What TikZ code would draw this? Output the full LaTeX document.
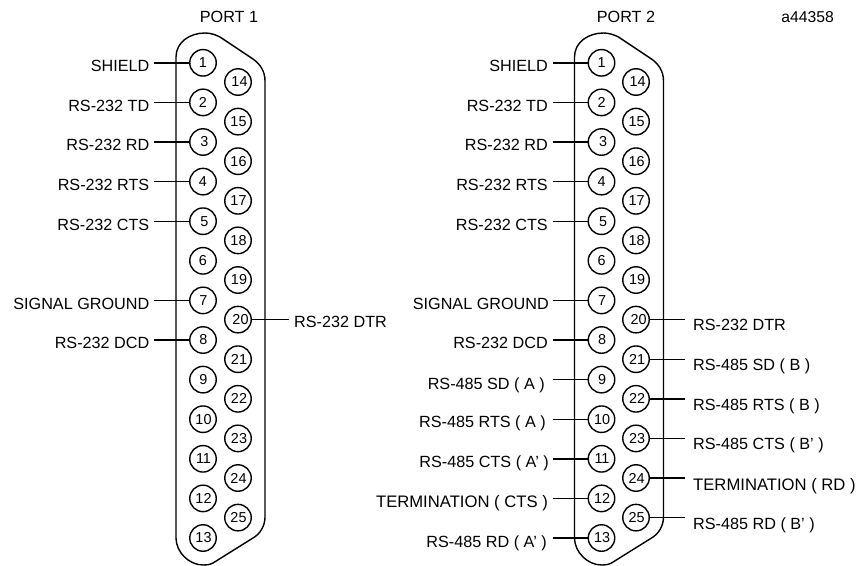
\documentclass[tikz,border=0pt]{standalone}
\usepackage{fontspec}
\setmainfont{Liberation Sans}
\tikzset{
 x=1pt,y=-1pt,
 pin/.style={draw,circle,line width=1.4pt,minimum size=26.5pt,inner sep=0pt,font=\fontsize{14.4}{15}\selectfont},
 lab/.style={inner sep=0pt,font=\fontsize{16.2}{18}\selectfont},
 labwide/.style={lab,font=\fontsize{16.65}{18}\selectfont},
 wire/.style={line width=1.4pt},
 shell/.style={line width=1.4pt},
}
\newcommand{\pinnum}[3]{\raisebox{#1pt}{\hspace*{#2pt}#3}}
\begin{document}
\begin{tikzpicture}
\useasboundingbox (0,0) rectangle (861,565);
% shells
\foreach \dx/\nm in {0/shellA,398.5/shellB}{
\begin{scope}[xshift=\dx pt]
\draw[shell] (176,292) -- (176,57) .. controls (176,42) and (190,33) .. (205,33)
 .. controls (211,33) and (216,35) .. (220,37) -- (253,59)
 .. controls (260,64) and (265,71) .. (265,81) -- (265,517)
 .. controls (265,526) and (260,534) .. (253,538) -- (213,563)
 .. controls (209,565) and (206,565) .. (203,565)
 .. controls (189,565) and (176,552) .. (176,538) -- (176,292);
\end{scope}}
% odd-column pins
\foreach \n/\yy/\r/\s in {1/62.8/-1/0,2/102.4/-1/0,3/142/-1/3,4/181.6/-1/0,5/221.2/-1.5/3,6/260.8/-1/0,7/300.4/-1/1,8/340/-1/1,9/379.6/-1/1,10/419.2/-2.5/1,11/458.8/-1.8/1,12/498.4/-2/1,13/538/-1.5/1}
 {\node[pin] (a\n) at (203,\yy) {\pinnum{\r}{\s}{\n}};
  \node[pin] (b\n) at (601.5,\yy) {\pinnum{\r}{\s}{\n}};}
% even-column pins
\foreach \n/\yy/\r/\s in {14/82/-2/3,15/121.6/-2/1,16/161.2/-2/1,17/200.8/-2/1,18/240.4/-2/1,19/280/-2/2,20/319.6/-2/5,21/359.2/-1/2,22/398.8/-3.5/2,23/438.4/-3/2,24/478/-3/1,25/517.6/-3/1}
 {\node[pin] (a\n) at (238,\yy) {\pinnum{\r}{\s}{\n}};
  \node[pin] (b\n) at (636,\yy) {\pinnum{\r}{\s}{\n}};}
% titles
\node[lab,anchor=base] (t1) at (229,22) {PORT 1};
\node[lab,anchor=base] (t2) at (626,22) {PORT 2};
\node[lab,anchor=base east,font=\fontsize{15.7}{18}\selectfont] (ref) at (834,22) {a44358};
% port 1 left labels
\foreach \n/\txt/\bl in {1/SHIELD/71,2/RS-232 TD/111,3/RS-232 RD/150,4/RS-232 RTS/190.5,5/RS-232 CTS/230,7/SIGNAL GROUND/309.3,8/RS-232 DCD/348.3}
 {\node[lab,anchor=base east] (la\n) at (149.5,\bl) {\txt};
  \coordinate (ca\n) at (154,0);
  \draw[wire] (ca\n |- a\n.west) -- (a\n.west);}
% port 1 pin 20
\node[lab,anchor=base west] (la20) at (294,327.8) {RS-232 DTR};
\coordinate (ca20) at (289,0);
\draw[wire] (a20.east) -- (ca20 |- a20.east);
% port 2 left labels
\foreach \n/\txt/\bl/\rx in {1/SHIELD/71/548,2/RS-232 TD/111/548,3/RS-232 RD/150/548,4/RS-232 RTS/190.5/548,5/RS-232 CTS/230/548,7/SIGNAL GROUND/309.3/549,8/RS-232 DCD/348.3/548,9/RS-485 SD ( A )/389/545,10/RS-485 RTS ( A )/427.7/546,11/RS-485 CTS ( A' )/467/549,13/RS-485 RD ( A' )/547/547}
 {\node[lab,anchor=base east] (lb\n) at (\rx,\bl) {\txt};
  \coordinate (cb\n) at (552.5,0);
  \draw[wire] (cb\n |- b\n.west) -- (b\n.west);}
\node[labwide,anchor=base east] (lb12) at (548,507) {TERMINATION ( CTS )};
\coordinate (cb12) at (552.5,0);
\draw[wire] (cb12 |- b12.west) -- (b12.west);
% port 2 right labels
\foreach \n/\txt/\bl in {20/RS-232 DTR/330.7,21/RS-485 SD ( B )/370.7,22/RS-485 RTS ( B )/410,23/RS-485 CTS ( B' )/449.5,25/RS-485 RD ( B' )/529.5}
 {\node[lab,anchor=base west] (lb\n) at (693,\bl) {\txt};
  \coordinate (cb\n) at (685,0);
  \draw[wire] (b\n.east) -- (cb\n |- b\n.east);}
\node[labwide,anchor=base west] (lb24) at (693,490) {TERMINATION ( RD )};
\coordinate (cb24) at (685,0);
\draw[wire] (b24.east) -- (cb24 |- b24.east);
\end{tikzpicture}
\end{document}
